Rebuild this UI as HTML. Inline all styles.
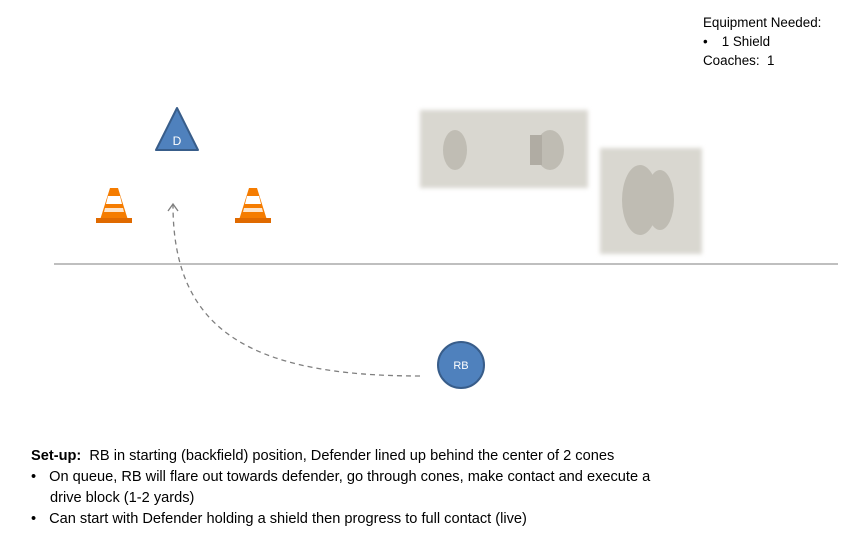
<!DOCTYPE html>
<html><head><style>
body{margin:0;width:866px;height:536px;background:#fff;position:relative;overflow:hidden;font-family:"Liberation Sans",sans-serif;color:#000}
.t{position:absolute;font-size:13px;white-space:nowrap}
.ph{position:absolute;background:#d9d7d0;filter:blur(2px)}
</style></head><body>
<div class="t" style="left:703px;top:13px;line-height:19px;font-size:13.4px">Equipment Needed:<br><span style="margin-right:14px">•</span>1 Shield<br>Coaches:&nbsp; 1</div>
<div class="ph" style="left:420px;top:110px;width:168px;height:78px"></div>
<div class="ph" style="left:600px;top:148px;width:102px;height:106px"></div>
<svg width="866" height="536" style="position:absolute;left:0;top:0">
<g fill="#b5b2a8" opacity="0.7">
<ellipse cx="455" cy="150" rx="12" ry="20"/><ellipse cx="550" cy="150" rx="14" ry="20"/><rect x="530" y="135" width="12" height="30" fill="#a09a90"/>
<ellipse cx="640" cy="200" rx="18" ry="35"/><ellipse cx="660" cy="200" rx="14" ry="30"/>
</g>
<line x1="54" y1="264" x2="838" y2="264" stroke="#7f7f7f" stroke-width="1"/>
<polygon points="177,108 156,150 198,150" fill="#4f81bd" stroke="#385d8a" stroke-width="2" stroke-linejoin="round"/>
<text x="177" y="145" font-size="12" fill="#fff" text-anchor="middle" font-family="Liberation Sans">D</text>
<g id="c">
<polygon points="110,188 118,188 128,220 100,220" fill="#f57c00"/>
<rect x="96" y="218" width="36" height="5" fill="#e06a00"/>
<polygon points="108,196 120,196 122,204 106,204" fill="#fff"/>
<polygon points="105,208 123,208 124,212 104,212" fill="#fff" opacity=".8"/>
</g>
<use href="#c" x="139"/>
<path d="M420,376 C250,376 173,330 173,205" fill="none" stroke="#7f7f7f" stroke-width="1.3" stroke-dasharray="5,4"/>
<polyline points="168,211 173,204 178,211" fill="none" stroke="#7f7f7f" stroke-width="1.3"/>
<circle cx="461" cy="365" r="23" fill="#4f81bd" stroke="#385d8a" stroke-width="2"/>
<text x="461" y="369" font-size="11" fill="#fff" text-anchor="middle" font-family="Liberation Sans">RB</text>
</svg>
<div class="t" style="left:31px;top:446px;line-height:21px;font-size:14.6px">
<b>Set-up:</b>&nbsp; RB in starting (backfield) position, Defender lined up behind the center of 2 cones<br>
<span style="margin-right:13px">•</span>On queue, RB will flare out towards defender, go through cones, make contact and execute a<br>
<span style="margin-left:19px">drive block (1-2 yards)</span><br>
<span style="margin-right:13px">•</span>Can start with Defender holding a shield then progress to full contact (live)</div>
</body></html>
